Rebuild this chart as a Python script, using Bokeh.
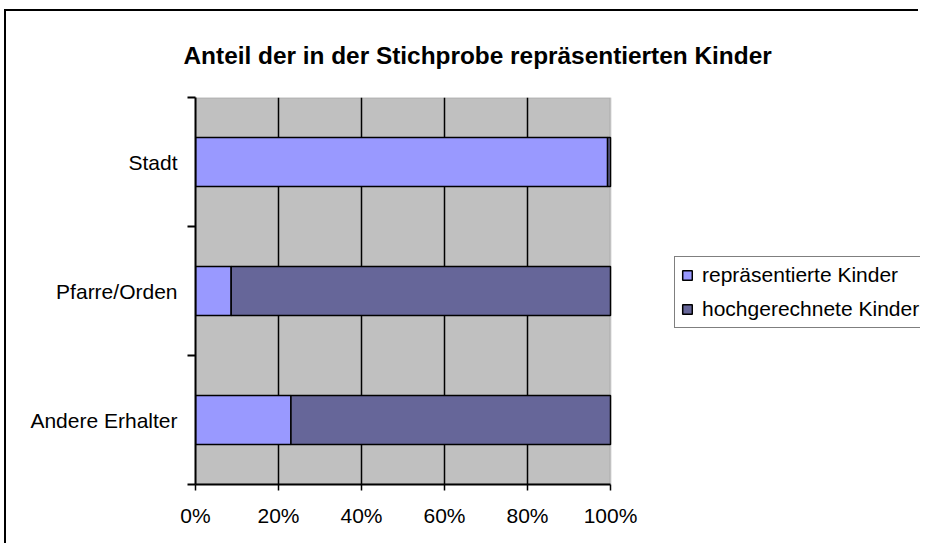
from bokeh.plotting import figure
from bokeh.models import (ColumnDataSource, FixedTicker, NumeralTickFormatter,
                          Legend, LegendItem, Range1d, BoxAnnotation)
from bokeh.embed import file_html
from bokeh.resources import INLINE

# ---- data ----
categories = ["Andere Erhalter", "Pfarre/Orden", "Stadt"]
represented = [0.23, 0.086, 0.993]
extrapolated = [0.77, 0.914, 0.007]
series_names = ["repräsentierte Kinder", "hochgerechnete Kinder"]
x_ticks = [0.0, 0.2, 0.4, 0.6, 0.8, 1.0]
title_text = "Anteil der in der Stichprobe repräsentierten Kinder"

FONT = "Liberation Sans"
LIGHT = "#9999FF"
DARK = "#666699"

ypos = [i + 0.5 for i in range(len(categories))]
src = ColumnDataSource(dict(y=ypos, rep=represented, hoch=extrapolated))

W, H = 914, 534
LEFT, TOP, PLOT_W, PLOT_H = 189, 84, 415, 389
frame_w = W - LEFT
p = figure(width=W, height=H, output_backend="svg", toolbar_location=None,
           x_range=Range1d(0, frame_w / PLOT_W), y_range=Range1d(0, len(categories)),
           min_border_left=LEFT, min_border_right=0,
           min_border_top=TOP, min_border_bottom=H - TOP - PLOT_H)
p.styles = {"border-left": "2px solid black", "border-top": "2px solid black",
            "margin-left": "4px", "margin-top": "9px"}
p.background_fill_color = "white"
p.border_fill_color = "white"
p.outline_line_color = None

# grey plot area (0..100 %, all categories)
p.add_layout(BoxAnnotation(left=0, right=1, bottom=0, top=len(categories),
                           fill_color="#C0C0C0", fill_alpha=1,
                           line_color="#808080", line_width=2, level="image"))

renderers = p.hbar_stack(["rep", "hoch"], y="y", height=0.38, color=[LIGHT, DARK],
                         line_color="black", line_width=1.5, source=src)

# x axis
p.xaxis.bounds = (0, 1)
p.xaxis.ticker = FixedTicker(ticks=x_ticks)
p.xaxis.formatter = NumeralTickFormatter(format="0%")
p.xaxis.axis_line_color = "black"
p.xaxis.axis_line_width = 2
p.xaxis.major_tick_out = 6
p.xaxis.major_tick_in = 0
p.xaxis.major_tick_line_width = 1.5
p.xaxis.minor_tick_line_color = None
p.xaxis.major_label_text_font = FONT
p.xaxis.major_label_text_font_size = "21px"
p.xaxis.major_label_text_color = "black"
p.xaxis.major_label_standoff = 13

# y axis
p.yaxis.ticker = FixedTicker(ticks=ypos, minor_ticks=[float(i) for i in range(len(categories) + 1)])
p.yaxis.major_label_overrides = {yv: c for yv, c in zip(ypos, categories)}
p.yaxis.axis_line_color = "black"
p.yaxis.axis_line_width = 2
p.yaxis.major_tick_out = 0
p.yaxis.major_tick_in = 0
p.yaxis.minor_tick_out = 8
p.yaxis.minor_tick_in = 0
p.yaxis.minor_tick_line_width = 2
p.yaxis.minor_tick_line_color = "black"
p.yaxis.major_label_text_font = FONT
p.yaxis.major_label_text_font_size = "21px"
p.yaxis.major_label_text_color = "black"
p.yaxis.major_label_standoff = 10

# grids
p.ygrid.visible = False
p.xgrid.ticker = FixedTicker(ticks=[0.2, 0.4, 0.6, 0.8])
p.xgrid.grid_line_color = "black"
p.xgrid.grid_line_width = 1.5

# legend
legend = Legend(items=[LegendItem(label=series_names[0], renderers=[renderers[0]]),
                       LegendItem(label=series_names[1], renderers=[renderers[1]])],
                location=(479, 156), orientation="vertical")
legend.label_text_font = FONT
legend.label_text_font_size = "21px"
legend.label_text_color = "black"
legend.glyph_width = 12
legend.glyph_height = 12
legend.label_height = 24
legend.spacing = 10
legend.padding = 6
legend.margin = 0
legend.label_standoff = 9
legend.border_line_color = "black"
legend.border_line_width = 1.5
legend.background_fill_color = "white"
legend.background_fill_alpha = 1
p.add_layout(legend)

# title
p.title.text = title_text
p.title.align = "left"
p.title.offset = -12
p.title.standoff = 57
p.title.text_font = FONT
p.title.text_font_size = "24.4px"
p.title.text_font_style = "bold"
p.title.text_color = "black"

open("out.html", "w").write(file_html(p, INLINE))
